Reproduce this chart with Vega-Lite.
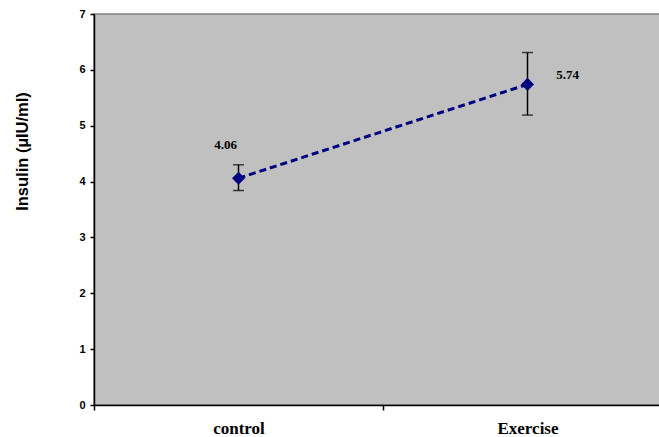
{
  "$schema": "https://vega.github.io/schema/vega-lite/v6.json",
  "width": 578,
  "height": 391,
  "autosize": {"type": "none"},
  "padding": {"left": 94, "top": 14, "right": -13, "bottom": 32},
  "background": "white",
  "config": {
    "view": {"fill": "#c0c0c0", "stroke": "#808080", "strokeWidth": 1.5}
  },
  "data": {
    "values": [
      {"group": "control", "mean": 4.06, "lo": 3.84, "hi": 4.3, "label": "4.06"},
      {"group": "Exercise", "mean": 5.74, "lo": 5.19, "hi": 6.31, "label": "5.74"}
    ]
  },
  "encoding": {
    "x": {
      "field": "group",
      "type": "nominal",
      "sort": null,
      "scale": {"type": "band", "paddingInner": 0, "paddingOuter": 0},
      "axis": {
        "title": null,
        "labelAngle": 0,
        "tickBand": "extent",
        "domainColor": "black",
        "domainWidth": 1.5,
        "tickColor": "black",
        "tickSize": 5,
        "tickWidth": 1.5,
        "labelFont": "Liberation Serif",
        "labelFontWeight": "bold",
        "labelFontSize": 17,
        "labelColor": "black",
        "labelPadding": 10
      }
    }
  },
  "layer": [
    {
      "mark": {"type": "line", "color": "#000080", "strokeWidth": 3, "strokeDash": [7, 4]},
      "encoding": {
        "y": {
          "field": "mean",
          "type": "quantitative",
          "scale": {"domain": [0, 7], "nice": false},
          "axis": {
            "title": "Insulin (µIU/ml)",
            "values": [0, 1, 2, 3, 4, 5, 6, 7],
            "format": "d",
            "grid": false,
            "domainColor": "black",
            "domainWidth": 1.5,
            "tickColor": "black",
            "tickSize": 4,
            "tickWidth": 1.5,
            "labelFont": "Liberation Sans",
            "labelFontWeight": "bold",
            "labelFontSize": 11,
            "labelColor": "black",
            "labelPadding": 5,
            "titleFont": "Liberation Sans",
            "titleFontWeight": "bold",
            "titleFontSize": 16.5,
            "titleColor": "black",
            "titleX": -72,
            "titleY": 137,
            "titleAngle": -90,
            "titleAlign": "center",
            "titleBaseline": "middle"
          }
        }
      }
    },
    {
      "mark": {"type": "rule", "color": "black", "strokeWidth": 1.5},
      "encoding": {
        "y": {"field": "lo", "type": "quantitative"},
        "y2": {"field": "hi"}
      }
    },
    {
      "mark": {"type": "tick", "color": "black", "thickness": 1.5, "size": 11, "orient": "horizontal"},
      "encoding": {"y": {"field": "lo", "type": "quantitative"}}
    },
    {
      "mark": {"type": "tick", "color": "black", "thickness": 1.5, "size": 11, "orient": "horizontal"},
      "encoding": {"y": {"field": "hi", "type": "quantitative"}}
    },
    {
      "mark": {"type": "point", "shape": "diamond", "filled": true, "color": "#000080", "size": 170, "opacity": 1},
      "encoding": {"y": {"field": "mean", "type": "quantitative"}}
    },
    {
      "transform": [{"filter": "datum.group === 'control'"}],
      "mark": {"type": "text", "font": "Liberation Serif", "fontWeight": "bold", "fontSize": 13, "color": "black", "dx": -13, "dy": -33},
      "encoding": {
        "y": {"field": "mean", "type": "quantitative"},
        "text": {"field": "label"}
      }
    },
    {
      "transform": [{"filter": "datum.group === 'Exercise'"}],
      "mark": {"type": "text", "font": "Liberation Serif", "fontWeight": "bold", "fontSize": 13, "color": "black", "dx": 40, "dy": -9},
      "encoding": {
        "y": {"field": "mean", "type": "quantitative"},
        "text": {"field": "label"}
      }
    }
  ]
}
